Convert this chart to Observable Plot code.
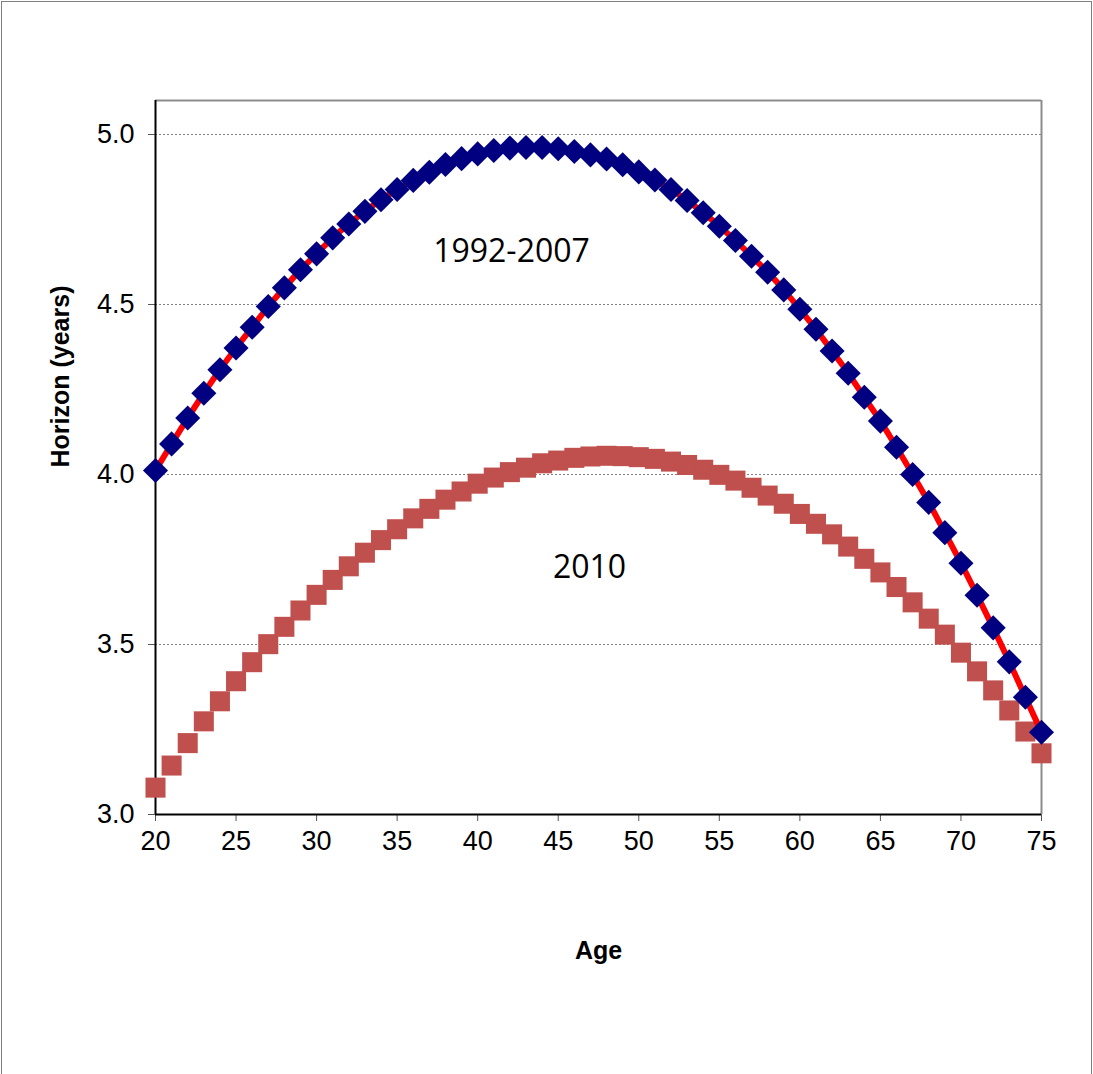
<!DOCTYPE html>
<html><head><meta charset="utf-8">
<script src="https://cdn.jsdelivr.net/npm/d3@7"></script>
<script src="https://cdn.jsdelivr.net/npm/@observablehq/plot@0.6"></script>
<style>
body{margin:0;background:#fff;}
#wrap{position:relative;width:1093px;height:1074px;overflow:hidden;}
#border{position:absolute;left:1px;top:1px;width:1089px;height:1090px;border:1px solid #7f7f7f;pointer-events:none;}
</style></head><body>
<div id="wrap"><div id="chart"></div><div id="border"></div></div>
<script>
const ages = [20,21,22,23,24,25,26,27,28,29,30,31,32,33,34,35,36,37,38,39,40,41,42,43,44,45,46,47,48,49,50,51,52,53,54,55,56,57,58,59,60,61,62,63,64,65,66,67,68,69,70,71,72,73,74,75];
const horizon1992_2007 = [4.012,4.090,4.166,4.239,4.308,4.372,4.433,4.494,4.549,4.602,4.649,4.696,4.737,4.774,4.808,4.838,4.865,4.889,4.912,4.929,4.943,4.953,4.960,4.962,4.962,4.958,4.950,4.940,4.928,4.911,4.890,4.866,4.838,4.806,4.770,4.730,4.688,4.642,4.595,4.543,4.486,4.427,4.363,4.298,4.227,4.157,4.080,4.000,3.918,3.829,3.739,3.645,3.549,3.449,3.345,3.242];
const horizon2010 = [3.079,3.144,3.210,3.274,3.333,3.392,3.448,3.501,3.552,3.600,3.646,3.690,3.730,3.770,3.807,3.839,3.871,3.899,3.926,3.950,3.973,3.991,4.007,4.020,4.033,4.041,4.049,4.053,4.055,4.054,4.051,4.046,4.038,4.028,4.014,3.999,3.982,3.961,3.938,3.914,3.884,3.855,3.824,3.788,3.752,3.712,3.669,3.624,3.576,3.529,3.476,3.421,3.365,3.306,3.244,3.180];
const xTicks = [20,25,30,35,40,45,50,55,60,65,70,75];
const yTicks = [3.0,3.5,4.0,4.5,5.0];
const gridValues = [3.5,4.0,4.5,5.0];
const seriesLabels = [
  {text:"1992-2007", age:42.1, value:4.654},
  {text:"2010", age:46.94, value:3.727}
];

const blue = ages.map((a,i)=>({age:a, value:horizon1992_2007[i]}));
const red = ages.map((a,i)=>({age:a, value:horizon2010[i]}));

const chart = Plot.plot({
  width:1093, height:1074,
  marginLeft:155, marginRight:52, marginTop:100, marginBottom:260,
  style:{fontFamily:"'Liberation Sans', Arial, sans-serif", fontSize:"27px", color:"#000", background:"#fff"},
  x:{domain:[20,75]},
  y:{domain:[3,5.1]},
  marks:[
    Plot.ruleY(gridValues,{stroke:"#808080",strokeDasharray:"2,2",strokeWidth:1}),
    Plot.ruleY([5.1],{stroke:"#8c8c8c",strokeWidth:2}),
    Plot.ruleX([75],{stroke:"#8c8c8c",strokeWidth:2}),
    Plot.axisX({ticks:xTicks, tickSize:7, tickPadding:9, label:null, fontSize:27, color:"#000", stroke:"#555"}),
    Plot.axisY({ticks:yTicks, tickSize:7, tickPadding:14, tickFormat:d3.format(".1f"), label:null, fontSize:27, color:"#000", stroke:"#555"}),
    Plot.ruleX([20],{stroke:"#000",strokeWidth:2}),
    Plot.ruleY([3],{stroke:"#000",strokeWidth:2}),
    Plot.dot(red,{x:"age",y:"value",symbol:"square",r:11.3,fill:"#C0504D",stroke:"none"}),
    Plot.line(blue,{x:"age",y:"value",stroke:"#FF0000",strokeWidth:6,curve:"catmull-rom"}),
    Plot.dot(blue,{x:"age",y:"value",symbol:"diamond2",r:11.3,fill:"#000080",stroke:"none"}),
    Plot.text(seriesLabels,{x:"age",y:"value",text:"text",fontFamily:"'Open Sans', 'Noto Sans', sans-serif",fontSize:32,fill:"#000"}),
    Plot.text(["Horizon (years)"],{frameAnchor:"left",dx:-95,dy:10,rotate:-90,fontWeight:"bold",fontSize:25,fill:"#000"}),
    Plot.text(["Age"],{frameAnchor:"bottom",dy:144,fontWeight:"bold",fontSize:25,fill:"#000"})
  ]
});
document.getElementById("chart").appendChild(chart);
</script>
</body></html>
